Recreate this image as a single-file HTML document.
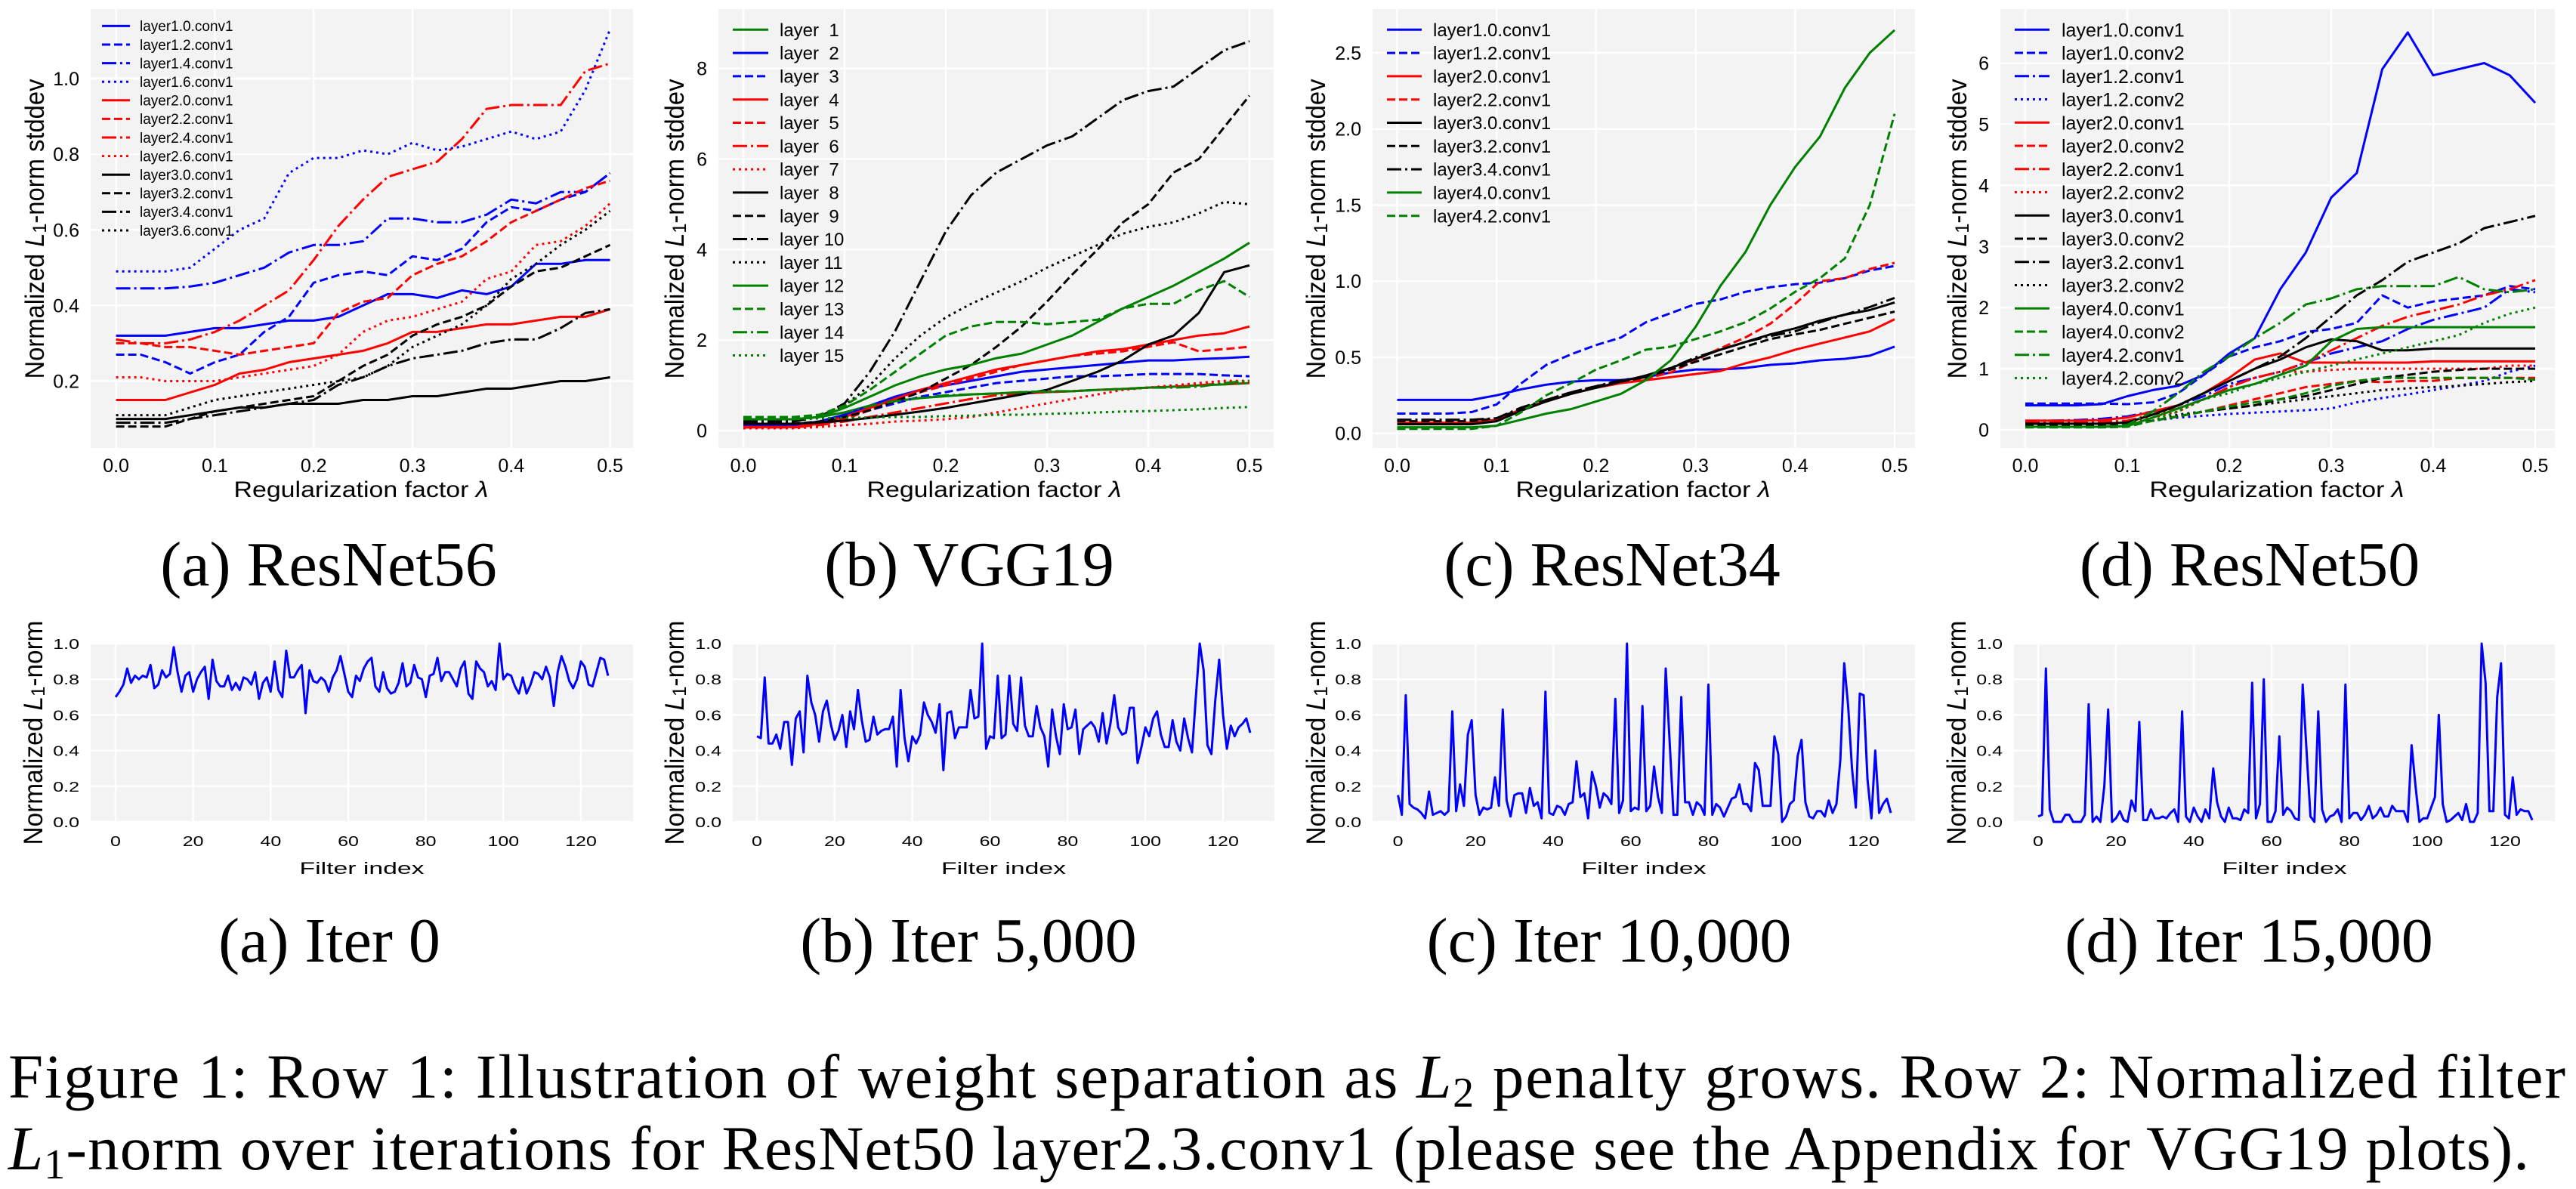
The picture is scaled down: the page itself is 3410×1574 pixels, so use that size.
<!DOCTYPE html>
<html><head><meta charset="utf-8">
<style>
html,body{margin:0;padding:0;background:#fff;}
svg{display:block;}
text{font-family:"Liberation Sans","DejaVu Sans",sans-serif;fill:#000;}
text.serif{font-family:"Liberation Serif","Times New Roman",serif;}
</style></head>
<body>
<svg id="fig" xmlns="http://www.w3.org/2000/svg" width="3410" height="1574" viewBox="0 0 3410 1574">
<g id="captions" font-family="Liberation Serif, serif">
<text class="serif" font-family="Liberation Serif, serif" x="435" y="775" font-size="84" text-anchor="middle">(a) ResNet56</text>
<text class="serif" font-family="Liberation Serif, serif" x="1283" y="775" font-size="84" text-anchor="middle">(b) VGG19</text>
<text class="serif" font-family="Liberation Serif, serif" x="2134" y="775" font-size="84" text-anchor="middle">(c) ResNet34</text>
<text class="serif" font-family="Liberation Serif, serif" x="2978" y="775" font-size="84" text-anchor="middle">(d) ResNet50</text>
<text class="serif" font-family="Liberation Serif, serif" x="436" y="1273" font-size="84" text-anchor="middle">(a) Iter 0</text>
<text class="serif" font-family="Liberation Serif, serif" x="1282" y="1273" font-size="84" text-anchor="middle">(b) Iter 5,000</text>
<text class="serif" font-family="Liberation Serif, serif" x="2130" y="1273" font-size="84" text-anchor="middle">(c) Iter 10,000</text>
<text class="serif" font-family="Liberation Serif, serif" x="2977" y="1273" font-size="84" text-anchor="middle">(d) Iter 15,000</text>
<text class="serif" font-family="Liberation Serif, serif" x="11" y="1453" font-size="83" textLength="3385" lengthAdjust="spacing">Figure 1: Row 1: Illustration of weight separation as <tspan font-style="italic">L</tspan><tspan font-size="56" dy="12">2</tspan><tspan dy="-12"> penalty grows. Row 2: Normalized filter</tspan></text>
<text class="serif" font-family="Liberation Serif, serif" x="11" y="1548" font-size="83" textLength="3337" lengthAdjust="spacing"><tspan font-style="italic">L</tspan><tspan font-size="56" dy="12">1</tspan><tspan dy="-12">-norm over iterations for ResNet50 layer2.3.conv1 (please see the Appendix for VGG19 plots).</tspan></text>
</g>
</svg>
<script>
// ===== DATA =====
const lambdas = [0,0.025,0.05,0.075,0.1,0.125,0.15,0.175,0.2,0.225,0.25,0.275,0.3,0.325,0.35,0.375,0.4,0.425,0.45,0.475,0.5];
const lambdaTicks = [0,0.1,0.2,0.3,0.4,0.5];
const lambdaTickLabels = ["0.0","0.1","0.2","0.3","0.4","0.5"];

const r56Names = ["layer1.0.conv1","layer1.2.conv1","layer1.4.conv1","layer1.6.conv1","layer2.0.conv1","layer2.2.conv1","layer2.4.conv1","layer2.6.conv1","layer3.0.conv1","layer3.2.conv1","layer3.4.conv1","layer3.6.conv1"];
const r56_l10 = [0.32,0.32,0.32,0.33,0.34,0.34,0.35,0.36,0.36,0.37,0.40,0.43,0.43,0.42,0.44,0.43,0.45,0.51,0.51,0.52,0.52];
const r56_l12 = [0.27,0.27,0.25,0.22,0.25,0.27,0.33,0.37,0.46,0.48,0.49,0.48,0.53,0.52,0.55,0.62,0.66,0.65,0.68,0.70,0.75];
const r56_l14 = [0.445,0.445,0.445,0.45,0.46,0.48,0.50,0.54,0.56,0.56,0.57,0.63,0.63,0.62,0.62,0.64,0.68,0.67,0.70,0.70,0.75];
const r56_l16 = [0.49,0.49,0.49,0.50,0.55,0.60,0.63,0.75,0.79,0.79,0.81,0.80,0.83,0.81,0.82,0.84,0.86,0.84,0.86,0.97,1.13];
const r56_l20 = [0.15,0.15,0.15,0.17,0.19,0.22,0.23,0.25,0.26,0.27,0.28,0.30,0.33,0.33,0.34,0.35,0.35,0.36,0.37,0.37,0.39];
const r56_l22 = [0.30,0.30,0.29,0.29,0.28,0.27,0.28,0.29,0.30,0.38,0.41,0.42,0.48,0.51,0.53,0.57,0.62,0.65,0.68,0.71,0.73];
const r56_l24 = [0.31,0.30,0.30,0.31,0.33,0.36,0.40,0.44,0.52,0.61,0.68,0.74,0.76,0.78,0.84,0.92,0.93,0.93,0.93,1.02,1.04];
const r56_l26 = [0.21,0.21,0.20,0.20,0.20,0.21,0.22,0.23,0.24,0.27,0.33,0.36,0.37,0.39,0.41,0.47,0.49,0.56,0.57,0.61,0.67];
const r56_l30 = [0.10,0.10,0.10,0.11,0.12,0.13,0.13,0.14,0.14,0.14,0.15,0.15,0.16,0.16,0.17,0.18,0.18,0.19,0.20,0.20,0.21];
const r56_l32 = [0.08,0.08,0.08,0.10,0.12,0.13,0.14,0.15,0.16,0.20,0.24,0.27,0.32,0.35,0.37,0.40,0.45,0.49,0.50,0.53,0.56];
const r56_l34 = [0.09,0.09,0.09,0.10,0.11,0.12,0.13,0.14,0.15,0.19,0.21,0.24,0.26,0.27,0.28,0.30,0.31,0.31,0.34,0.38,0.39];
const r56_l36 = [0.11,0.11,0.11,0.13,0.15,0.16,0.17,0.18,0.19,0.20,0.21,0.24,0.29,0.32,0.35,0.40,0.47,0.51,0.56,0.60,0.65];

const vggNames = ["layer  1","layer  2","layer  3","layer  4","layer  5","layer  6","layer  7","layer  8","layer  9","layer 10","layer 11","layer 12","layer 13","layer 14","layer 15"];
const vgg_1 = [0.25,0.25,0.25,0.3,0.4,0.55,0.65,0.72,0.76,0.8,0.82,0.85,0.85,0.87,0.9,0.92,0.95,0.97,1.0,1.02,1.05];
const vgg_2 = [0.12,0.12,0.13,0.2,0.35,0.55,0.75,0.9,1.0,1.1,1.2,1.3,1.35,1.4,1.45,1.5,1.55,1.55,1.58,1.6,1.63];
const vgg_3 = [0.1,0.1,0.1,0.15,0.3,0.45,0.6,0.75,0.85,0.95,1.05,1.1,1.15,1.2,1.2,1.22,1.25,1.25,1.25,1.22,1.2];
const vgg_4 = [0.08,0.08,0.08,0.15,0.3,0.5,0.7,0.9,1.05,1.2,1.35,1.45,1.55,1.65,1.75,1.8,1.9,2.0,2.1,2.15,2.3];
const vgg_5 = [0.07,0.07,0.07,0.13,0.25,0.45,0.65,0.85,1.0,1.15,1.3,1.45,1.55,1.65,1.7,1.75,1.85,1.95,1.75,1.8,1.85];
const vgg_6 = [0.07,0.07,0.07,0.12,0.2,0.3,0.4,0.5,0.6,0.7,0.78,0.82,0.85,0.87,0.9,0.92,0.95,0.97,1.0,1.05,1.05];
const vgg_7 = [0.05,0.05,0.05,0.08,0.12,0.15,0.2,0.22,0.25,0.3,0.4,0.5,0.6,0.7,0.8,0.9,0.95,1.0,1.05,1.1,1.1];
const vgg_8 = [0.15,0.15,0.15,0.18,0.22,0.28,0.35,0.42,0.5,0.6,0.7,0.8,0.9,1.1,1.3,1.55,1.9,2.1,2.6,3.5,3.65];
const vgg_9 = [0.15,0.15,0.15,0.2,0.3,0.45,0.65,0.85,1.15,1.45,1.85,2.3,2.85,3.45,4.0,4.6,5.0,5.7,6.0,6.7,7.4];
const vgg_10 = [0.2,0.2,0.2,0.3,0.6,1.3,2.2,3.3,4.4,5.2,5.7,6.0,6.3,6.5,6.9,7.3,7.5,7.6,8.0,8.4,8.6];
const vgg_11 = [0.2,0.2,0.2,0.3,0.55,1.0,1.6,2.1,2.5,2.8,3.05,3.3,3.6,3.85,4.1,4.35,4.5,4.6,4.8,5.05,5.0];
const vgg_12 = [0.25,0.25,0.25,0.3,0.5,0.75,1.0,1.2,1.35,1.45,1.6,1.7,1.9,2.1,2.4,2.7,2.95,3.2,3.5,3.8,4.15];
const vgg_13 = [0.3,0.3,0.3,0.35,0.55,0.9,1.3,1.7,2.1,2.3,2.4,2.4,2.35,2.4,2.45,2.7,2.8,2.8,3.1,3.3,2.95];
const vgg_14 = [0.25,0.25,0.25,0.3,0.4,0.55,0.65,0.72,0.78,0.8,0.82,0.85,0.87,0.87,0.9,0.92,0.95,0.95,0.97,1.05,1.1];
const vgg_15 = [0.25,0.25,0.25,0.27,0.28,0.29,0.3,0.3,0.32,0.33,0.35,0.35,0.37,0.38,0.4,0.42,0.43,0.45,0.47,0.5,0.52];

const r34Names = ["layer1.0.conv1","layer1.2.conv1","layer2.0.conv1","layer2.2.conv1","layer3.0.conv1","layer3.2.conv1","layer3.4.conv1","layer4.0.conv1","layer4.2.conv1"];
const r34_l10 = [0.22,0.22,0.22,0.22,0.25,0.29,0.32,0.34,0.35,0.35,0.37,0.40,0.42,0.42,0.43,0.45,0.46,0.48,0.49,0.51,0.57];
const r34_l12 = [0.13,0.13,0.13,0.14,0.19,0.33,0.45,0.52,0.58,0.63,0.73,0.79,0.85,0.88,0.93,0.96,0.98,0.99,1.02,1.07,1.10];
const r34_l20 = [0.07,0.07,0.07,0.07,0.09,0.16,0.21,0.26,0.30,0.33,0.35,0.37,0.39,0.41,0.46,0.50,0.55,0.59,0.63,0.67,0.75];
const r34_l22 = [0.07,0.07,0.07,0.07,0.09,0.16,0.22,0.27,0.31,0.34,0.36,0.40,0.48,0.56,0.63,0.72,0.85,1.0,1.02,1.08,1.12];
const r34_l30 = [0.06,0.06,0.06,0.06,0.08,0.15,0.21,0.26,0.30,0.34,0.38,0.43,0.49,0.55,0.60,0.65,0.69,0.74,0.78,0.81,0.86];
const r34_l32 = [0.08,0.08,0.08,0.08,0.10,0.16,0.22,0.27,0.31,0.34,0.37,0.42,0.47,0.52,0.57,0.62,0.65,0.68,0.72,0.76,0.80];
const r34_l34 = [0.09,0.09,0.09,0.09,0.10,0.17,0.22,0.27,0.31,0.35,0.37,0.43,0.50,0.55,0.60,0.64,0.67,0.73,0.78,0.83,0.89];
const r34_l40 = [0.04,0.04,0.04,0.04,0.05,0.09,0.13,0.16,0.21,0.26,0.35,0.48,0.70,0.97,1.19,1.50,1.75,1.95,2.27,2.50,2.65];
const r34_l42 = [0.03,0.03,0.03,0.03,0.05,0.14,0.25,0.33,0.42,0.48,0.55,0.57,0.62,0.67,0.73,0.82,0.93,1.02,1.15,1.50,2.10];

const r50Names = ["layer1.0.conv1","layer1.0.conv2","layer1.2.conv1","layer1.2.conv2","layer2.0.conv1","layer2.0.conv2","layer2.2.conv1","layer2.2.conv2","layer3.0.conv1","layer3.0.conv2","layer3.2.conv1","layer3.2.conv2","layer4.0.conv1","layer4.0.conv2","layer4.2.conv1","layer4.2.conv2"];
const r50_l101 = [0.4,0.4,0.4,0.42,0.55,0.65,0.72,0.9,1.25,1.5,2.3,2.9,3.8,4.2,5.9,6.5,5.8,5.9,6.0,5.8,5.35];
const r50_l102 = [0.43,0.43,0.43,0.43,0.42,0.45,0.6,0.9,1.2,1.35,1.45,1.6,1.65,1.75,2.2,2.0,2.1,2.15,2.2,2.35,2.3];
const r50_l121 = [0.15,0.15,0.16,0.18,0.22,0.3,0.4,0.55,0.75,0.85,0.95,1.1,1.25,1.35,1.45,1.65,1.8,1.9,2.0,2.3,2.25];
const r50_l122 = [0.08,0.08,0.08,0.09,0.1,0.15,0.2,0.23,0.26,0.28,0.3,0.32,0.35,0.45,0.52,0.58,0.65,0.72,0.8,0.95,1.05];
const r50_l201 = [0.15,0.15,0.15,0.16,0.2,0.3,0.4,0.6,0.85,1.15,1.25,1.1,1.1,1.1,1.1,1.1,1.12,1.12,1.12,1.12,1.12];
const r50_l202 = [0.08,0.08,0.08,0.08,0.09,0.15,0.22,0.3,0.4,0.5,0.6,0.7,0.75,0.8,0.78,0.8,0.8,0.85,0.85,0.85,0.85];
const r50_l221 = [0.12,0.12,0.12,0.13,0.15,0.25,0.35,0.5,0.7,0.85,0.95,1.1,1.3,1.5,1.7,1.85,1.95,2.05,2.2,2.3,2.45];
const r50_l222 = [0.1,0.1,0.1,0.1,0.12,0.2,0.3,0.5,0.7,0.85,0.95,0.95,0.98,1.0,1.0,1.0,1.0,1.0,1.0,1.05,1.05];
const r50_l301 = [0.1,0.1,0.1,0.1,0.12,0.25,0.4,0.6,0.8,1.0,1.15,1.35,1.48,1.45,1.3,1.3,1.33,1.33,1.33,1.33,1.33];
const r50_l302 = [0.08,0.08,0.08,0.08,0.09,0.15,0.22,0.3,0.35,0.4,0.5,0.55,0.65,0.75,0.85,0.9,0.95,0.98,1.0,1.0,1.0];
const r50_l321 = [0.1,0.1,0.1,0.1,0.12,0.25,0.4,0.6,0.8,1.0,1.2,1.5,1.85,2.2,2.45,2.75,2.9,3.05,3.3,3.4,3.5];
const r50_l322 = [0.05,0.05,0.05,0.05,0.07,0.15,0.25,0.3,0.35,0.4,0.45,0.5,0.55,0.6,0.65,0.68,0.7,0.72,0.75,0.78,0.8];
const r50_l401 = [0.05,0.05,0.05,0.05,0.06,0.2,0.35,0.5,0.65,0.75,0.9,1.05,1.45,1.65,1.68,1.68,1.68,1.68,1.68,1.68,1.68];
const r50_l402 = [0.04,0.04,0.04,0.04,0.05,0.15,0.22,0.3,0.38,0.45,0.5,0.6,0.72,0.8,0.85,0.85,0.85,0.85,0.85,0.85,0.82];
const r50_l421 = [0.05,0.05,0.05,0.05,0.08,0.3,0.6,0.95,1.2,1.5,1.75,2.05,2.15,2.3,2.35,2.35,2.35,2.5,2.3,2.25,2.3];
const r50_l422 = [0.05,0.05,0.05,0.05,0.06,0.15,0.3,0.5,0.6,0.75,0.85,0.95,1.05,1.15,1.25,1.35,1.45,1.55,1.75,1.9,2.0];

const filterTicks = [0,20,40,60,80,100,120];
const normTicks = [0,0.2,0.4,0.6,0.8,1.0];
const normTickLabels = ["0.0","0.2","0.4","0.6","0.8","1.0"];
const iter0 = [.70,.73,.77,.86,.78,.82,.80,.82,.81,.88,.75,.77,.85,.81,.83,.98,.84,.73,.82,.84,.73,.80,.84,.87,.69,.91,.79,.76,.76,.82,.74,.78,.74,.81,.80,.77,.84,.69,.78,.81,.73,.90,.74,.70,.96,.81,.81,.85,.88,.61,.85,.79,.78,.81,.79,.73,.81,.85,.93,.83,.73,.70,.82,.79,.86,.90,.92,.76,.73,.84,.75,.72,.73,.78,.89,.76,.78,.88,.81,.80,.70,.82,.83,.92,.79,.84,.84,.80,.76,.86,.90,.72,.69,.90,.86,.84,.76,.79,.74,1.0,.80,.83,.82,.76,.72,.81,.72,.77,.84,.83,.80,.87,.81,.65,.84,.93,.87,.79,.75,.80,.90,.87,.77,.76,.84,.92,.91,.82];
const iter5000 = [.48,.47,.81,.44,.44,.49,.41,.56,.56,.32,.58,.62,.39,.82,.67,.60,.45,.62,.68,.55,.46,.51,.60,.42,.62,.52,.74,.57,.45,.46,.59,.49,.51,.52,.52,.59,.31,.74,.47,.34,.48,.44,.49,.67,.60,.56,.50,.66,.29,.61,.62,.47,.53,.53,.53,.74,.58,.59,1.0,.41,.48,.47,.82,.47,.49,.82,.55,.51,.81,.54,.48,.48,.65,.53,.48,.31,.63,.48,.38,.66,.52,.53,.63,.38,.52,.54,.56,.53,.45,.61,.44,.55,.71,.53,.49,.50,.64,.64,.33,.42,.53,.48,.58,.62,.49,.42,.42,.57,.45,.40,.58,.47,.39,.70,1.0,.85,.43,.38,.68,.91,.60,.41,.54,.48,.53,.55,.58,.50];
const iter10000 = [.15,.04,.71,.10,.08,.07,.05,.02,.17,.04,.05,.06,.04,.06,.62,.06,.21,.09,.49,.57,.15,.04,.08,.07,.08,.25,.09,.63,.12,.03,.15,.16,.16,.05,.19,.09,.11,.02,.73,.05,.04,.09,.08,.04,.10,.11,.34,.14,.16,.02,.28,.20,.08,.16,.14,.10,.69,.05,.12,1.0,.06,.08,.07,.65,.06,.09,.31,.14,.05,.86,.45,.04,.04,.70,.11,.11,.04,.11,.09,.04,.77,.04,.10,.08,.03,.08,.13,.14,.21,.10,.10,.06,.33,.29,.09,.09,.09,.48,.38,.00,.03,.10,.12,.37,.46,.11,.03,.02,.06,.06,.03,.12,.05,.10,.35,.89,.65,.30,.08,.72,.71,.24,.02,.40,.05,.10,.13,.05];
const iter15000 = [.03,.04,.86,.07,.00,.00,.00,.04,.04,.00,.00,.00,.04,.66,.00,.03,.00,.20,.63,.00,.02,.06,.01,.00,.12,.06,.56,.01,.01,.07,.02,.02,.03,.02,.05,.07,.00,.62,.03,.00,.08,.03,.00,.07,.02,.30,.11,.03,.00,.08,.02,.02,.01,.07,.05,.78,.02,.10,.80,.00,.00,.06,.48,.04,.08,.06,.02,.01,.77,.40,.03,.00,.62,.07,.00,.03,.04,.07,.00,.77,.02,.05,.05,.01,.04,.09,.02,.04,.08,.03,.03,.09,.06,.06,.06,.00,.43,.20,.00,.02,.02,.08,.14,.60,.10,.00,.01,.03,.05,.01,.10,.00,.00,.05,1.0,.78,.06,.06,.70,.89,.04,.02,.25,.04,.07,.06,.06,.01];

// ===== STYLES (not data) =====
const DASH = {solid:null, dashed:"11 5", dashdot:"19 5 3 5", dotted:"3 5"};
const sty = (c,d)=>({c:c,d:d});
const r56Styles = [sty('#0000ff','solid'),sty('#0000ff','dashed'),sty('#0000ff','dashdot'),sty('#0000ff','dotted'),sty('#ff0000','solid'),sty('#ff0000','dashed'),sty('#ff0000','dashdot'),sty('#ff0000','dotted'),sty('#000','solid'),sty('#000','dashed'),sty('#000','dashdot'),sty('#000','dotted')];
const vggStyles = [sty('#008000','solid'),sty('#0000ff','solid'),sty('#0000ff','dashed'),sty('#ff0000','solid'),sty('#ff0000','dashed'),sty('#ff0000','dashdot'),sty('#ff0000','dotted'),sty('#000','solid'),sty('#000','dashed'),sty('#000','dashdot'),sty('#000','dotted'),sty('#008000','solid'),sty('#008000','dashed'),sty('#008000','dashdot'),sty('#008000','dotted')];
const r34Styles = [sty('#0000ff','solid'),sty('#0000ff','dashed'),sty('#ff0000','solid'),sty('#ff0000','dashed'),sty('#000','solid'),sty('#000','dashed'),sty('#000','dashdot'),sty('#008000','solid'),sty('#008000','dashed')];
const r50Styles = [sty('#0000ff','solid'),sty('#0000ff','dashed'),sty('#0000ff','dashdot'),sty('#0000ff','dotted'),sty('#ff0000','solid'),sty('#ff0000','dashed'),sty('#ff0000','dashdot'),sty('#ff0000','dotted'),sty('#000','solid'),sty('#000','dashed'),sty('#000','dashdot'),sty('#000','dotted'),sty('#008000','solid'),sty('#008000','dashed'),sty('#008000','dashdot'),sty('#008000','dotted')];

const NS = 'http://www.w3.org/2000/svg';
const svg = document.getElementById('fig');
function el(tag, attrs, parent){
  const e = document.createElementNS(NS, tag);
  for (const k in attrs) e.setAttribute(k, attrs[k]);
  parent.appendChild(e);
  return e;
}
function lin(d0,d1,p0,p1){ return v => p0 + (v-d0)*(p1-p0)/(d1-d0); }

function ylabelText(g, x, y, len, fs, rest, name){
  const t = el('text', {transform:`translate(${x},${y}) rotate(-90)`, 'text-anchor':'middle', 'dominant-baseline':'central', 'font-size':fs, textLength:len, lengthAdjust:'spacingAndGlyphs'}, g);
  
  
  const a = document.createElementNS(NS,'tspan'); a.textContent = 'Normalized '; t.appendChild(a);
  const b = document.createElementNS(NS,'tspan'); b.setAttribute('font-style','italic'); b.textContent='L'; t.appendChild(b);
  const c = document.createElementNS(NS,'tspan'); c.setAttribute('font-size', Math.round(fs*0.7)); c.setAttribute('dy', Math.round(fs*0.2)); c.textContent='1'; t.appendChild(c);
  const d = document.createElementNS(NS,'tspan'); d.setAttribute('dy', -Math.round(fs*0.2)); d.textContent = rest; t.appendChild(d);
}

function drawTop(cfg){
  const g = el('g', {}, svg);
  
  
  const X = lin(0, 0.5, cfg.x0, cfg.x1);
  const Y = lin(cfg.ya[0], cfg.yb[0], cfg.ya[1], cfg.yb[1]);
  const bg = el('rect', {x:cfg.left, y:12, width:cfg.right-cfg.left, height:593-12, fill:'#f3f3f3'}, g);
  
  
  lambdaTicks.forEach((t,i)=>{
    const gl = el('line', {x1:X(t), x2:X(t), y1:12, y2:593, stroke:'#fff', 'stroke-width':2.5}, g);
    
    
    const tl = el('text', {x:X(t), y:625, 'font-size':25, 'text-anchor':'middle'}, g);
    
    
    tl.textContent = lambdaTickLabels[i];
  });
  cfg.yticks.forEach((t,i)=>{
    const gl = el('line', {x1:cfg.left, x2:cfg.right, y1:Y(t), y2:Y(t), stroke:'#fff', 'stroke-width':2.5}, g);
    
    
    const tl = el('text', {x:cfg.left-15, y:Y(t)+9, 'font-size':25, 'text-anchor':'end'}, g);
    
    
    tl.textContent = cfg.yticklabels[i];
  });
  cfg.series.forEach((vals,si)=>{
    const s = cfg.styles[si];
    const pts = vals.map((v,i)=>X(lambdas[i]).toFixed(1)+','+Y(v).toFixed(1)).join(' ');
    const attrs = {points:pts, fill:'none', stroke:s.c, 'stroke-width':3, 'stroke-linejoin':'round'};
    if (DASH[s.d]) attrs['stroke-dasharray'] = DASH[s.d];
    const p = el('polyline', attrs, g);
    
    
  });
  const lg = el('g', {}, g);
  
  
  cfg.names.forEach((n,i)=>{
    const s = cfg.styles[i];
    const y = cfg.leg.y0 + i*cfg.leg.dy;
    const a = {x1:cfg.leg.lx0, x2:cfg.leg.lx1, y1:y, y2:y, stroke:s.c, 'stroke-width':3};
    if (DASH[s.d]) a['stroke-dasharray'] = DASH[s.d];
    const ln = el('line', a, lg);
    
    
    const t = el('text', {x:cfg.leg.tx, y:y+cfg.leg.fs*0.36, 'font-size':cfg.leg.fs, style:'white-space:pre'}, lg);
    
    
    t.textContent = n;
  });
  ylabelText(g, cfg.ylx, 303, 397, 35, '-norm stddev', 'y-axis-title');
  const xl = el('text', {x:cfg.xlx, y:658, 'font-size':30, 'text-anchor':'middle', textLength:337, lengthAdjust:'spacingAndGlyphs'}, g);
  
  
  xl.textContent = 'Regularization factor ';
  const lam = document.createElementNS(NS,'tspan'); lam.setAttribute('font-style','italic'); lam.textContent='λ'; xl.appendChild(lam);
}

function drawBottom(cfg){
  const g = el('g', {}, svg);
  
  
  const X = lin(0, 120, cfg.x0, cfg.x1);
  const Y = lin(0, 1, 1088, 852);
  const bg = el('rect', {x:cfg.left, y:852, width:cfg.right-cfg.left, height:1088-852, fill:'#f3f3f3'}, g);
  
  
  filterTicks.forEach(t=>{
    const gl = el('line', {x1:X(t), x2:X(t), y1:852, y2:1088, stroke:'#fff', 'stroke-width':2.5}, g);
    
    
    const tl = el('text', {transform:`translate(${X(t)},1120) scale(1,0.75)`, 'font-size':25, 'text-anchor':'middle'}, g);
    
    
    tl.textContent = String(t);
  });
  normTicks.forEach((t,i)=>{
    const gl = el('line', {x1:cfg.left, x2:cfg.right, y1:Y(t), y2:Y(t), stroke:'#fff', 'stroke-width':2.5}, g);
    
    
    const tl = el('text', {transform:`translate(${cfg.left-15},${Y(t)+7}) scale(1,0.75)`, 'font-size':25, 'text-anchor':'end'}, g);
    
    
    tl.textContent = normTickLabels[i];
  });
  const pts = cfg.vals.map((v,i)=>X(i).toFixed(1)+','+Y(v).toFixed(1)).join(' ');
  const p = el('polyline', {points:pts, fill:'none', stroke:'#0000ff', 'stroke-width':3, 'stroke-linejoin':'round'}, g);
  
  
  ylabelText(g, cfg.ylx, 970, 297, 35, '-norm', 'y-axis-title');
  const xl = el('text', {transform:`translate(${(cfg.left+cfg.right)/2},1157) scale(1,0.75)`, 'font-size':30, 'text-anchor':'middle', textLength:165, lengthAdjust:'spacingAndGlyphs'}, g);
  
  
  xl.textContent = 'Filter index';
}

drawTop({name:'chart-resnet56', left:120, right:838, x0:153.6, x1:807.6, ya:[0.2,504.5], yb:[1.0,104],
  yticks:[0.2,0.4,0.6,0.8,1.0], yticklabels:["0.2","0.4","0.6","0.8","1.0"],
  series:[r56_l10,r56_l12,r56_l14,r56_l16,r56_l20,r56_l22,r56_l24,r56_l26,r56_l30,r56_l32,r56_l34,r56_l36],
  names:r56Names, styles:r56Styles, leg:{lx0:135,lx1:172,tx:185,y0:34.4,dy:24.6,fs:19}, ylx:46, xlx:478});
drawTop({name:'chart-vgg19', left:951, right:1686, x0:984, x1:1654, ya:[0,570], yb:[8,90.6],
  yticks:[0,2,4,6,8], yticklabels:["0","2","4","6","8"],
  series:[vgg_1,vgg_2,vgg_3,vgg_4,vgg_5,vgg_6,vgg_7,vgg_8,vgg_9,vgg_10,vgg_11,vgg_12,vgg_13,vgg_14,vgg_15],
  names:vggNames, styles:vggStyles, leg:{lx0:970,lx1:1017,tx:1032,y0:39.3,dy:30.8,fs:24}, ylx:893, xlx:1316});
drawTop({name:'chart-resnet34', left:1817, right:2535, x0:1849.5, x1:2508, ya:[0,573.7], yb:[2.5,70],
  yticks:[0,0.5,1.0,1.5,2.0,2.5], yticklabels:["0.0","0.5","1.0","1.5","2.0","2.5"],
  series:[r34_l10,r34_l12,r34_l20,r34_l22,r34_l30,r34_l32,r34_l34,r34_l40,r34_l42],
  names:r34Names, styles:r34Styles, leg:{lx0:1836,lx1:1882,tx:1897,y0:39.3,dy:30.8,fs:24}, ylx:1742, xlx:2175});
drawTop({name:'chart-resnet50', left:2648, right:3382, x0:2681, x1:3356, ya:[0,569], yb:[6,83.5],
  yticks:[0,1,2,3,4,5,6], yticklabels:["0","1","2","3","4","5","6"],
  series:[r50_l101,r50_l102,r50_l121,r50_l122,r50_l201,r50_l202,r50_l221,r50_l222,r50_l301,r50_l302,r50_l321,r50_l322,r50_l401,r50_l402,r50_l421,r50_l422],
  names:r50Names, styles:r50Styles, leg:{lx0:2667,lx1:2713,tx:2729,y0:39.3,dy:30.75,fs:25}, ylx:2591, xlx:3014});

drawBottom({name:'chart-iter-0', left:120, right:838, x0:153, x1:769, vals:iter0, ylx:44});
drawBottom({name:'chart-iter-5000', left:970, right:1687, x0:1002, x1:1619, vals:iter5000, ylx:893});
drawBottom({name:'chart-iter-10000', left:1817, right:2535, x0:1850.6, x1:2467, vals:iter10000, ylx:1742});
drawBottom({name:'chart-iter-15000', left:2666, right:3382, x0:2698, x1:3316, vals:iter15000, ylx:2590});
</script>
</body></html>
